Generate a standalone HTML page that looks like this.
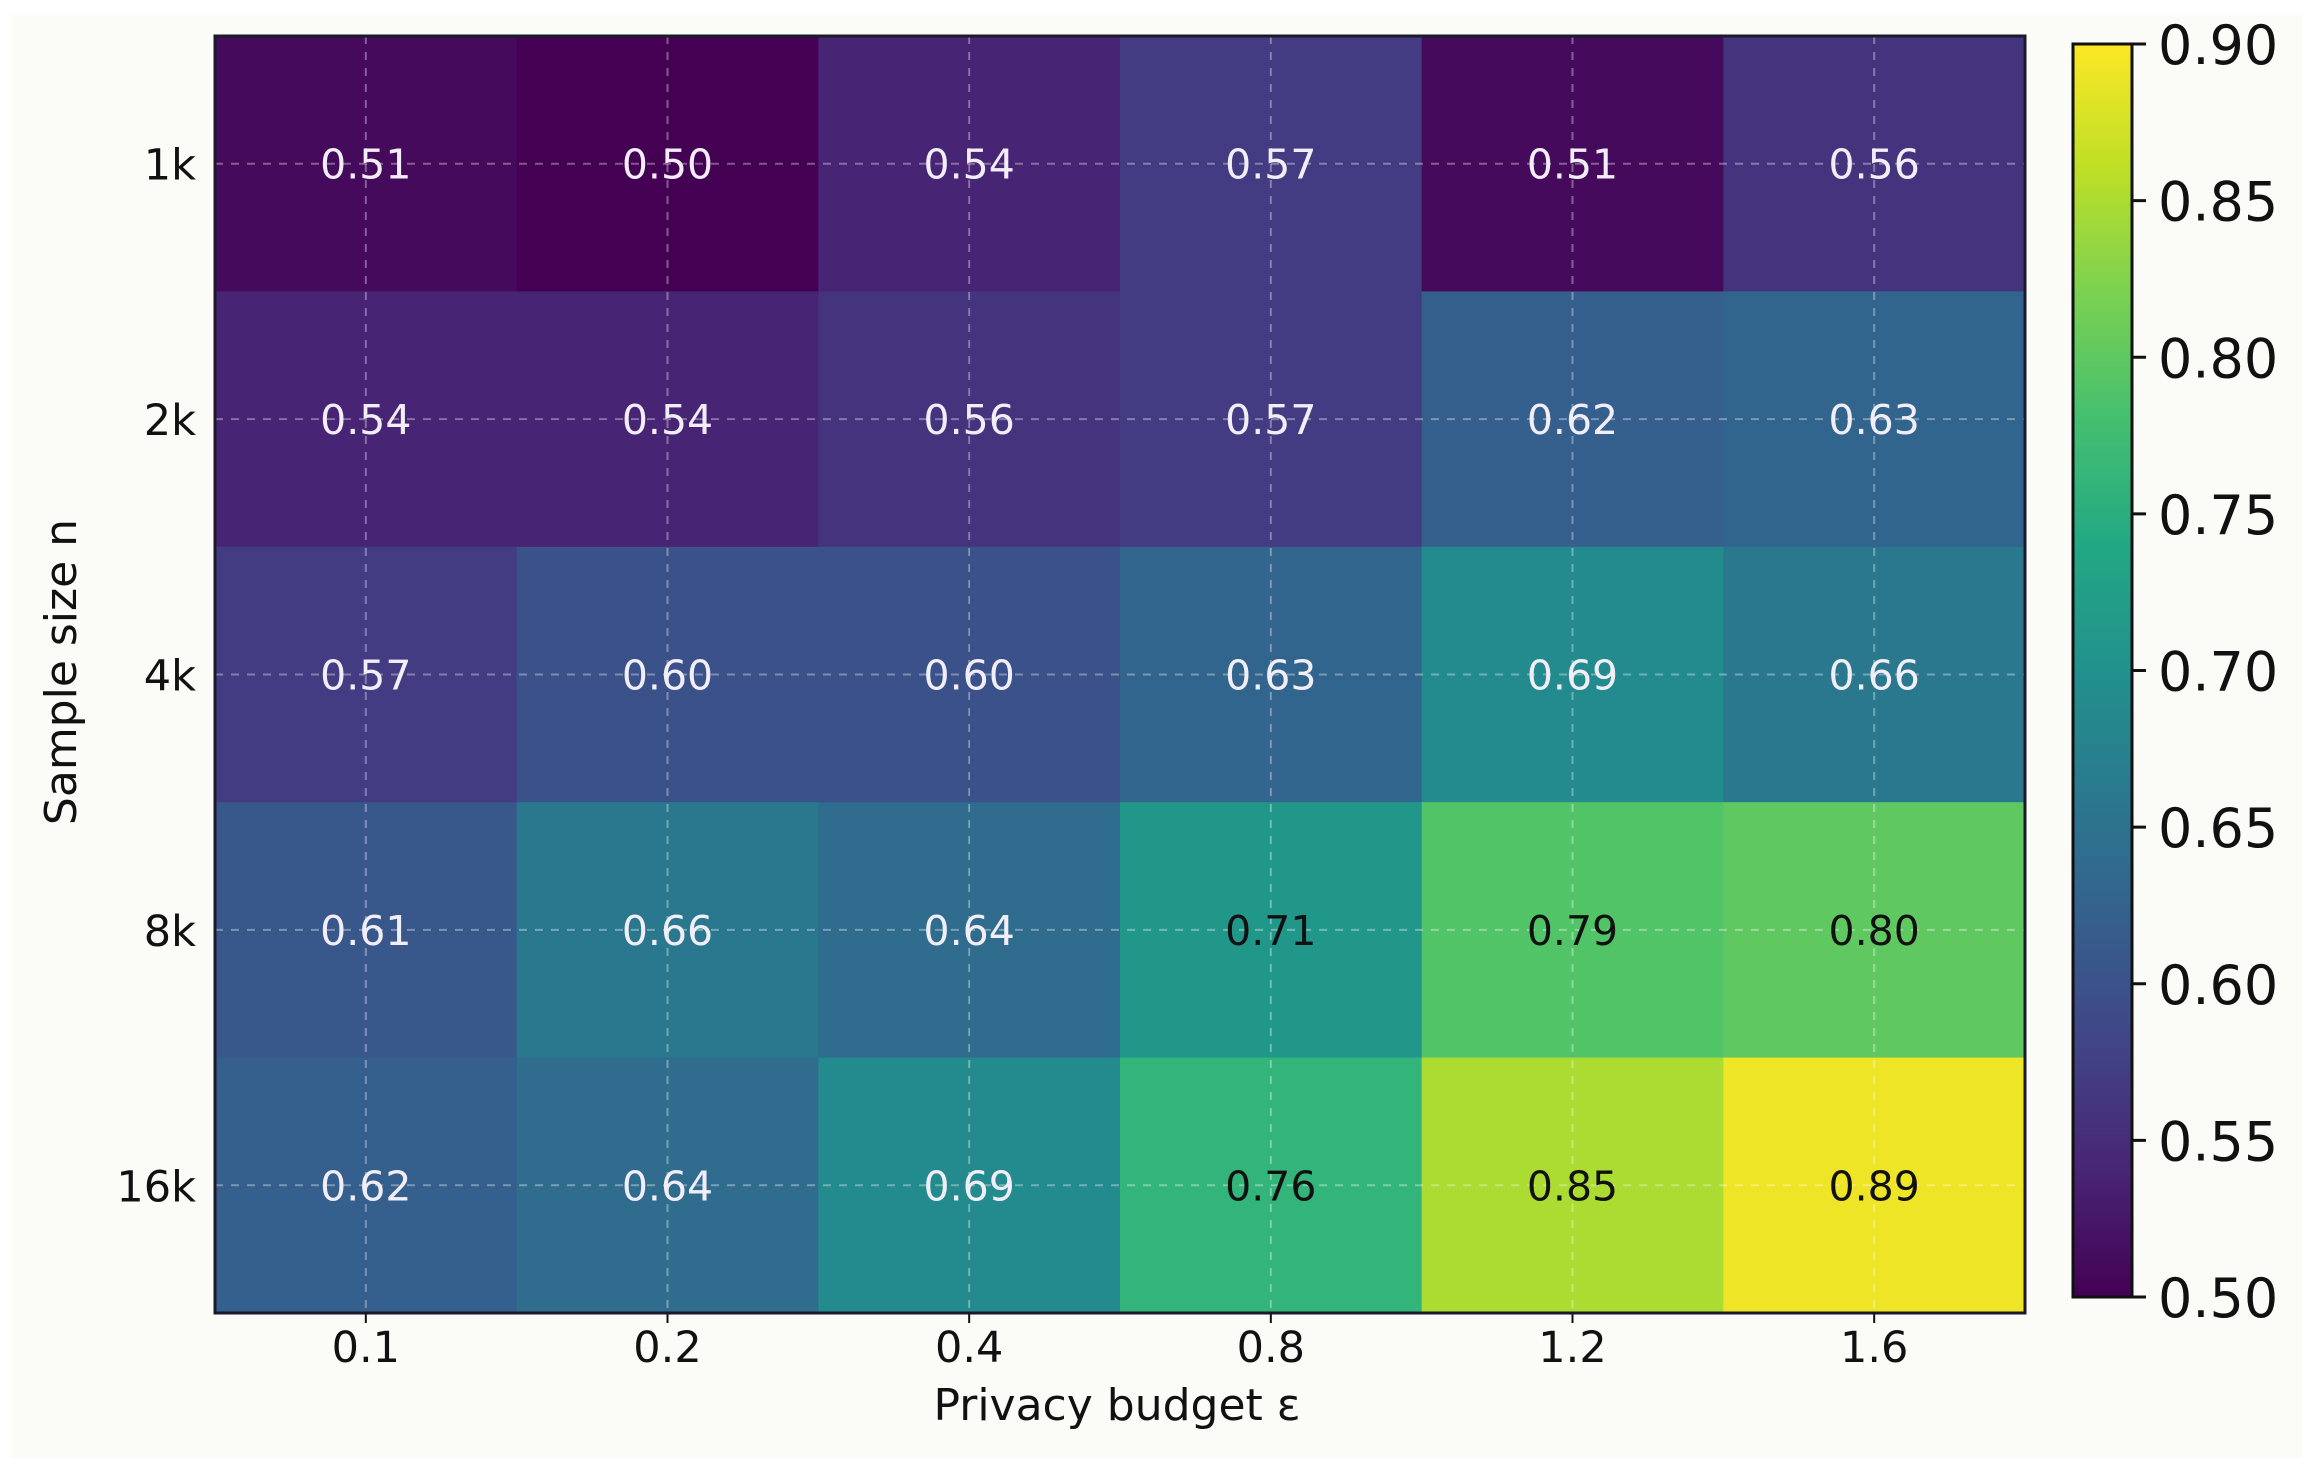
<!DOCTYPE html>
<html><head><meta charset="utf-8"><style>
html,body{margin:0;padding:0;background:#fff;}
svg{display:block;font-family:"DejaVu Sans","Liberation Sans",sans-serif;}
</style></head><body>
<svg id="chart" width="2315" height="1471" viewBox="0 0 2315 1471" xmlns="http://www.w3.org/2000/svg">
<rect x="12" y="15" width="2290" height="1443" fill="#fbfcf7"/>
<g id="cells"></g>
<g id="grid"></g>
<g id="labels"></g>
<rect x="215" y="36" width="1810" height="1277" fill="none" stroke="#1a1a2a" stroke-width="3"/>
<defs><linearGradient id="vg" x1="0" y1="1" x2="0" y2="0"></linearGradient></defs>
<rect x="2073" y="44" width="59" height="1253" fill="url(#vg)" stroke="#111" stroke-width="3"/>
<g id="cbticks"></g>
<text x="1117" y="1420" font-size="44" text-anchor="middle" fill="#111">Privacy budget ε</text>
<text transform="translate(76,672) rotate(-90)" font-size="44" text-anchor="middle" fill="#111">Sample size n</text>
</svg>
<script>
const xCats=["0.1","0.2","0.4","0.8","1.2","1.6"];
const yCats=["1k","2k","4k","8k","16k"];
const row1k=[0.51,0.50,0.54,0.57,0.51,0.56];
const row2k=[0.54,0.54,0.56,0.57,0.62,0.63];
const row4k=[0.57,0.60,0.60,0.63,0.69,0.66];
const row8k=[0.61,0.66,0.64,0.71,0.79,0.80];
const row16k=[0.62,0.64,0.69,0.76,0.85,0.89];
const cbTicks=[0.50,0.55,0.60,0.65,0.70,0.75,0.80,0.85,0.90];
const vmin=0.50,vmax=0.90;
const rows=[row1k,row2k,row4k,row8k,row16k];
const NS="http://www.w3.org/2000/svg";
const X0=215,X1=2025,Y0=36,Y1=1313;
const cw=(X1-X0)/xCats.length, ch=(Y1-Y0)/yCats.length;
function xPos(i){return X0+i*cw;}
function yPos(j){return Y0+j*ch;}
const CB0=1297,CB1=44;
function cbY(v){return CB0+(v-vmin)/(vmax-vmin)*(CB1-CB0);}
const stops=[[68,1,84],[72,36,117],[65,68,135],[53,95,141],[42,120,142],[33,145,140],[34,168,132],[68,191,112],[122,209,81],[189,223,38],[253,231,37]];
function viridis(t){t=Math.max(0,Math.min(1,t));const p=t*(stops.length-1);const i=Math.min(Math.floor(p),stops.length-2);const f=p-i;const a=stops[i],b=stops[i+1];return `rgb(${Math.round(a[0]+(b[0]-a[0])*f)},${Math.round(a[1]+(b[1]-a[1])*f)},${Math.round(a[2]+(b[2]-a[2])*f)})`;}
function mk(tag,attrs,parent){const e=document.createElementNS(NS,tag);for(const k in attrs)e.setAttribute(k,attrs[k]);parent.appendChild(e);return e;}
const cells=document.getElementById('cells'),grid=document.getElementById('grid'),labels=document.getElementById('labels');
rows.forEach((row,j)=>{row.forEach((v,i)=>{
 const r=mk('rect',{x:xPos(i),y:yPos(j),width:cw+0.5,height:ch+0.5,fill:viridis((v-vmin)/(vmax-vmin))},cells);
 
 
 const t=mk('text',{x:xPos(i)+cw/2,y:yPos(j)+ch/2+15,'font-size':41,'text-anchor':'middle',fill:v>=0.70?'#111':'#f2eef8'},labels);
 t.textContent=v.toFixed(2);
 
 
});});
xCats.forEach((c,i)=>{const cx=xPos(i)+cw/2;
 const g=mk('line',{x1:cx,x2:cx,y1:Y0,y2:Y1,stroke:'rgba(255,255,255,0.35)','stroke-width':2,'stroke-dasharray':'8,8'},grid);
 
 
 const tk=mk('line',{x1:cx,x2:cx,y1:Y1,y2:Y1+10,stroke:'#111','stroke-width':2},grid);
 
 
 const t=mk('text',{x:cx,y:1362,'font-size':43,'text-anchor':'middle',fill:'#111'},labels);
 t.textContent=c;
 
 
});
yCats.forEach((c,j)=>{const cy=yPos(j)+ch/2;
 const g=mk('line',{x1:X0,x2:X1,y1:cy,y2:cy,stroke:'rgba(255,255,255,0.35)','stroke-width':2,'stroke-dasharray':'8,8'},grid);
 
 
 const t=mk('text',{x:196,y:cy+16,'font-size':43,'text-anchor':'end',fill:'#111'},labels);
 t.textContent=c;
 
 
});
const lg=document.getElementById('vg');
for(let k=0;k<=20;k++){mk('stop',{offset:(k/20*100)+'%','stop-color':viridis(k/20)},lg);}
const cbg=document.getElementById('cbticks');
cbTicks.forEach(v=>{const y=cbY(v);
 const l=mk('line',{x1:2132,x2:2146,y1:y,y2:y,stroke:'#111','stroke-width':3},cbg);
 
 
 const t=mk('text',{x:2158,y:y+20,'font-size':54,fill:'#111'},cbg);
 t.textContent=v.toFixed(2);
 
 
});
</script>
</body></html>
